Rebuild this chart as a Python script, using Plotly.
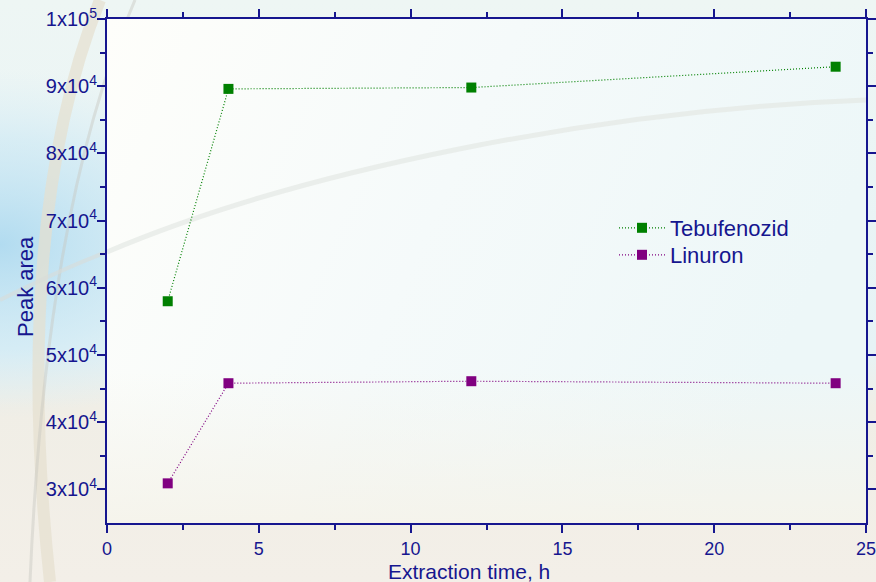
import base64
import plotly.graph_objects as go

# Data
time_h = [2, 4, 12, 24]
tebufenozid = [58000, 89600, 89800, 92900]
linuron = [30900, 45800, 46100, 45800]
x_tickvals = [0, 5, 10, 15, 20, 25]
y_tickvals = [30000, 40000, 50000, 60000, 70000, 80000, 90000, 100000]
y_ticktext = ["3x10<sup>4</sup>", "4x10<sup>4</sup>", "5x10<sup>4</sup>", "6x10<sup>4</sup>",
              "7x10<sup>4</sup>", "8x10<sup>4</sup>", "9x10<sup>4</sup>", "1x10<sup>5</sup>"]

W, H = 876, 582
L, R, T, B = 107, 10, 19, 59
pw, ph = W - L - R, H - T - B

navy = "#16168f"
font_family = "Liberation Sans, Arial, sans-serif"

svg = f'''<svg xmlns="http://www.w3.org/2000/svg" width="{W}" height="{H}" viewBox="0 0 {W} {H}">
<defs>
<linearGradient id="g1" x1="0" y1="0" x2="0" y2="1">
<stop offset="0" stop-color="#eef6f4"/>
<stop offset="0.6" stop-color="#e6f3f6"/>
<stop offset="0.7" stop-color="#f0eee6"/>
<stop offset="1" stop-color="#f3efe8"/>
</linearGradient>
<radialGradient id="g2" cx="0" cy="0.42" r="0.3">
<stop offset="0" stop-color="#a8d7ef" stop-opacity="0.85"/>
<stop offset="0.6" stop-color="#c4e5f4" stop-opacity="0.5"/>
<stop offset="1" stop-color="#d5ecf5" stop-opacity="0"/>
</radialGradient>
<linearGradient id="p1" x1="0" y1="0" x2="1" y2="0.3">
<stop offset="0" stop-color="#fefefa"/>
<stop offset="0.5" stop-color="#f5fafa"/>
<stop offset="1" stop-color="#edf7f8"/>
</linearGradient>
<linearGradient id="p2" x1="0" y1="0" x2="0" y2="1">
<stop offset="0.7" stop-color="#f5f3ea" stop-opacity="0"/>
<stop offset="1" stop-color="#f5f3ea" stop-opacity="0.9"/>
</linearGradient>
</defs>
<rect width="{W}" height="{H}" fill="url(#g1)"/>
<rect width="{W}" height="{H}" fill="url(#g2)"/>
<path d="M 100 0 C 40 150, 25 350, 50 582" stroke="#e6dfcf" stroke-width="12" fill="none" opacity="0.7"/>
<path d="M 135 0 C 70 150, 40 350, 30 582" stroke="#c8c8c0" stroke-width="3" fill="none" opacity="0.45"/>
<path d="M 0 300 C 40 280, 80 262, 107 252" stroke="#d8dcd8" stroke-width="4" fill="none" opacity="0.6"/>
<rect x="{L}" y="{T}" width="{pw}" height="{ph}" fill="url(#p1)"/>
<rect x="{L}" y="{T}" width="{pw}" height="{ph}" fill="url(#p2)"/>
<path d="M {L} 252 C 300 170, 600 110, 866 100" stroke="#e4e8e4" stroke-width="5" fill="none" opacity="0.7"/>
</svg>'''
src = "data:image/svg+xml;base64," + base64.b64encode(svg.encode()).decode()

fig = go.Figure()
fig.add_trace(go.Scatter(
    x=time_h, y=tebufenozid, name="Tebufenozid", mode="lines+markers", legend="legend",
    line=dict(color="#008000", width=1.2, dash="1px,2px"),
    marker=dict(symbol="square", size=10, color="#008000"),
))
fig.add_trace(go.Scatter(
    x=time_h, y=linuron, name="Linuron", mode="lines+markers", legend="legend2",
    line=dict(color="#800080", width=1.2, dash="1px,2px"),
    marker=dict(symbol="square", size=10, color="#800080"),
))

axis_common = dict(
    showline=True, linecolor=navy, linewidth=2, mirror="ticks",
    ticks="outside", ticklen=8, tickwidth=2, tickcolor=navy,
    showgrid=False, zeroline=False, automargin=False,
    ticklabeloverflow="allow",
)

fig.update_xaxes(
    range=[0, 25], tickvals=x_tickvals,
    tickfont=dict(family=font_family, size=18, color=navy),
    minor=dict(tickvals=[2.5, 7.5, 12.5, 17.5, 22.5], ticks="outside", ticklen=5, tickwidth=2, tickcolor=navy),
    **axis_common,
)
fig.update_yaxes(
    range=[25000, 100000], tickvals=y_tickvals, ticktext=y_ticktext,
    ticklabelstandoff=-4,
    tickfont=dict(family=font_family, size=20, color=navy),
    minor=dict(tickvals=[35000, 45000, 55000, 65000, 75000, 85000, 95000], ticks="outside", ticklen=5, tickwidth=2, tickcolor=navy),
    **axis_common,
)

legend_common = dict(xanchor="left", yanchor="top", bgcolor="rgba(0,0,0,0)",
                     font=dict(family=font_family, size=22, color=navy),
                     itemwidth=46, tracegroupgap=0)

fig.update_layout(
    width=W, height=H,
    margin=dict(l=L, r=R, t=T, b=B),
    paper_bgcolor="#f3efe7",
    plot_bgcolor="rgba(0,0,0,0)",
    showlegend=True,
    legend=dict(x=(614 - L) / pw, y=1 - (207 - T) / ph, **legend_common),
    legend2=dict(x=(614 - L) / pw, y=1 - (234 - T) / ph, **legend_common),
    annotations=[
        dict(text="Extraction time, h", xref="paper", yref="paper",
             x=(469 - L) / pw, y=1 - (571 - T) / ph, xanchor="center", yanchor="middle",
             showarrow=False, font=dict(family=font_family, size=21, color=navy)),
        dict(text="Peak area", xref="paper", yref="paper", textangle=-90,
             x=(25 - L) / pw, y=1 - (287 - T) / ph, xanchor="center", yanchor="middle",
             showarrow=False, font=dict(family=font_family, size=22, color=navy)),
    ],
    images=[dict(source=src, xref="paper", yref="paper",
                 x=-L / pw, y=1 + T / ph, sizex=W / pw, sizey=H / ph,
                 xanchor="left", yanchor="top", sizing="stretch", layer="below")],
)

fig.write_html("out.html")
